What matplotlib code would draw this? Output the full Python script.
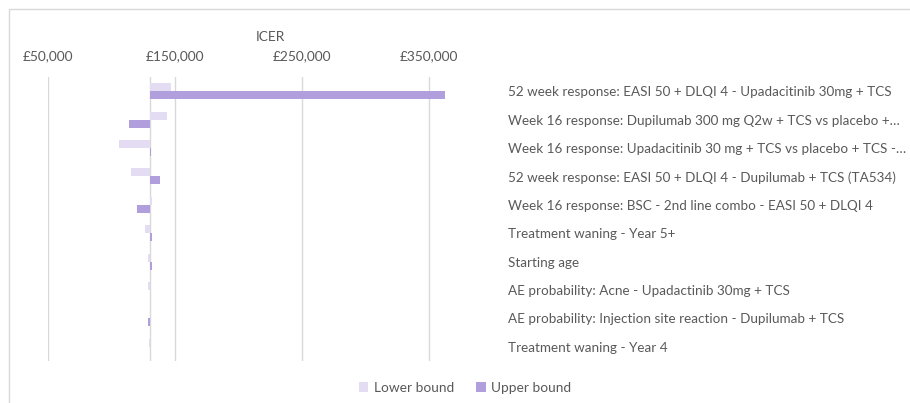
import matplotlib.pyplot as plt
from matplotlib.patches import Rectangle
from matplotlib.ticker import FuncFormatter

plt.rcParams['font.family'] = ['Lato', 'DejaVu Sans']

base_icer = 130300

labels = [
    "52 week response: EASI 50 + DLQI 4 - Upadacitinib 30mg + TCS",
    "Week 16 response: Dupilumab 300 mg Q2w + TCS vs placebo +…",
    "Week 16 response: Upadacitinib 30 mg + TCS vs placebo + TCS -…",
    "52 week response: EASI 50 + DLQI 4 - Dupilumab + TCS (TA534)",
    "Week 16 response: BSC - 2nd line combo - EASI 50 + DLQI 4",
    "Treatment waning - Year 5+",
    "Starting age",
    "AE probability: Acne - Upadactinib 30mg + TCS",
    "AE probability: Injection site reaction - Dupilumab + TCS",
    "Treatment waning - Year 4",
]
lower_bound = [146600, 143900, 105900, 115400, 131900, 126400, 129000, 129000, 130300, 129300]
upper_bound = [362600, 114000, 131100, 138000, 120300, 131600, 131600, 130300, 128500, 130300]

x_ticks = [50000, 150000, 250000, 350000]

light = '#e3dcf3'
dark = '#b19fdd'
grid_col = '#d9d9d9'
text_col = '#595959'

W, H = 910, 403
fig = plt.figure(figsize=(W / 100, H / 100), dpi=100)
ax = fig.add_axes([48 / W, 1 - 361 / H, (492 - 48) / W, (361 - 77) / H])

pos = list(range(len(labels)))
h = 0.28
ax.barh([p - h / 2 for p in pos], [v - base_icer for v in lower_bound], left=base_icer,
        height=h, color=light, label='Lower bound', zorder=3)
ax.barh([p + h / 2 for p in pos], [v - base_icer for v in upper_bound], left=base_icer,
        height=h, color=dark, label='Upper bound', zorder=3)

ax.set_xlim(50000, 400000)
ax.set_ylim(len(labels) - 0.5, -0.5)
ax.set_xticks(x_ticks)
ax.xaxis.set_major_formatter(FuncFormatter(lambda v, _: f"£{v:,.0f}"))
ax.xaxis.tick_top()
ax.grid(axis='x', color=grid_col, linewidth=1, zorder=0)
ax.axvline(base_icer, color=grid_col, linewidth=1, zorder=1)

ax.set_yticks(pos)
ax.set_yticklabels(labels)
ax.yaxis.tick_right()
for t in ax.get_yticklabels():
    t.set_horizontalalignment('left')
ax.tick_params(axis='y', length=0, pad=11.5, labelsize=9.7, labelcolor=text_col)
ax.tick_params(axis='x', length=0, pad=11, labelsize=9.9, labelcolor=text_col)
for s in ax.spines.values():
    s.set_visible(False)

fig.text(270 / W, 1 - 37 / H, 'ICER', ha='center', va='center', fontsize=9.9, color=text_col)

fig.legend(loc='center', bbox_to_anchor=(465 / W, 1 - 388 / H), ncol=2, frameon=False,
           handlelength=0.7, handleheight=0.7, handletextpad=0.4, columnspacing=1.6,
           fontsize=9.9, labelcolor=text_col)

fig.patches.append(Rectangle((8.5 / W, -0.01), 1.0, 1 - 9.5 / H + 0.01,
                             transform=fig.transFigure, fill=False,
                             edgecolor=grid_col, linewidth=1))

fig.savefig('out.png', dpi=100)
